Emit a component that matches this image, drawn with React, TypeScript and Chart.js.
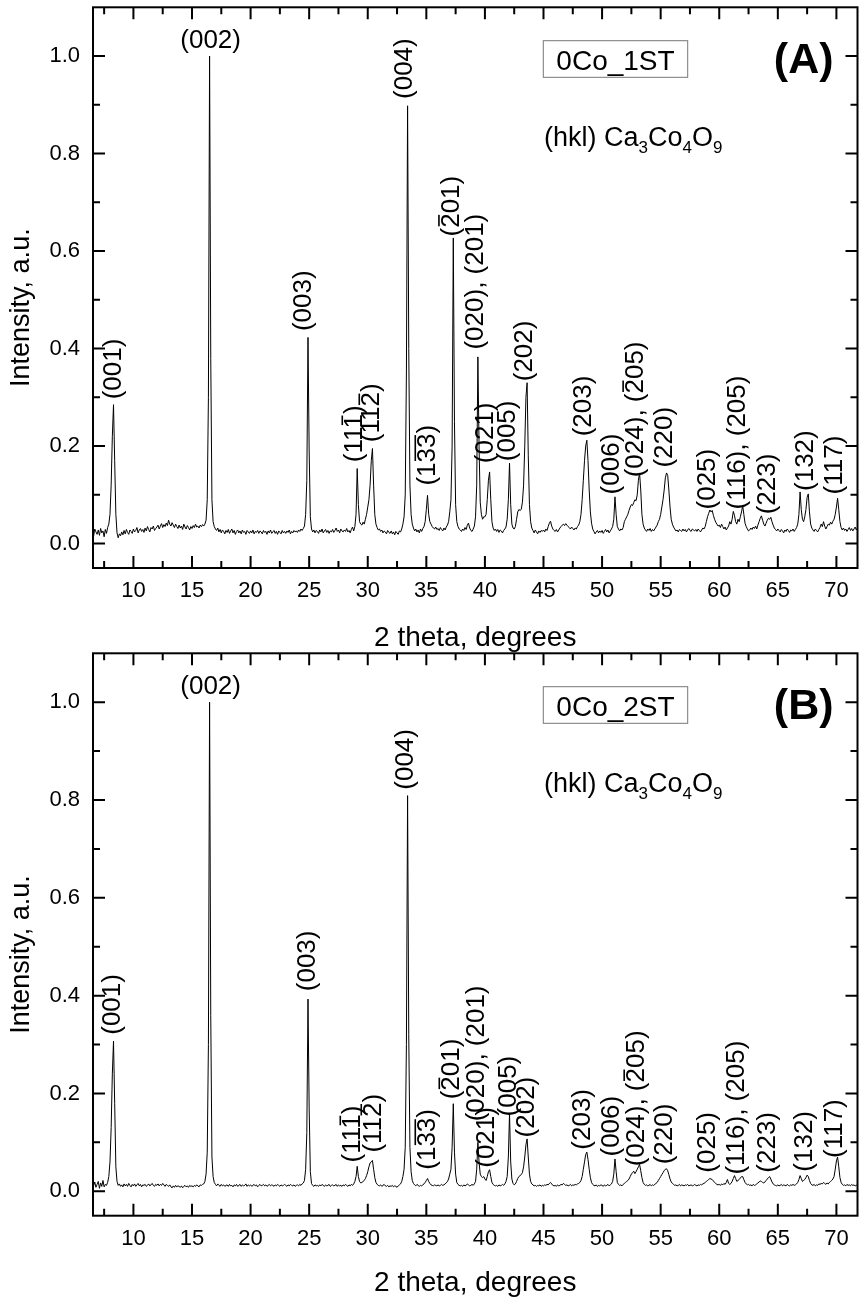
import React, { useEffect, useRef } from "react";
import { Chart, registerables } from "chart.js";

Chart.register(...registerables);

const FONT = '"Liberation Sans", Arial, Helvetica, sans-serif';

// 2-theta sampling of the diffractograms (degrees)
const TWO_THETA_START = 6.0;
const TWO_THETA_STEP = 0.1;

// axis ranges and ticks
const X_MIN = 6.55;
const X_MAX = 71.8;
const Y_MIN = -0.05;
const Y_MAX = 1.1;
const X_MAJOR_TICKS = [10, 15, 20, 25, 30, 35, 40, 45, 50, 55, 60, 65, 70];
const X_MINOR_TICKS = [7.5, 12.5, 17.5, 22.5, 27.5, 32.5, 37.5, 42.5, 47.5, 52.5, 57.5, 62.5, 67.5];
const Y_MAJOR_TICKS = [0, 0.2, 0.4, 0.6, 0.8, 1.0];
const Y_MINOR_TICKS = [0.1, 0.3, 0.5, 0.7, 0.9];

const X_TITLE = "2 theta, degrees";
const Y_TITLE = "Intensity, a.u.";
const PHASE_PREFIX = "(hkl) Ca";

// Sample 0Co_1ST, one row per degree (x.0 ... x.9), rows 6 .. 71
const intensity1ST = [
  0.022, 0.03, 0.018, 0.028, 0.02, 0.026, 0.015, 0.03, 0.024, 0.019, // 6
  0.028, 0.017, 0.031, 0.022, 0.026, 0.014, 0.029, 0.021, 0.033, 0.04, // 7
  0.06, 0.12, 0.22, 0.285, 0.17, 0.06, 0.022, 0.012, 0.02, 0.016, // 8
  0.024, 0.018, 0.027, 0.02, 0.029, 0.023, 0.019, 0.028, 0.025, 0.021, // 9
  0.03, 0.024, 0.027, 0.033, 0.022, 0.028, 0.031, 0.025, 0.029, 0.023, // 10
  0.032, 0.026, 0.035, 0.029, 0.024, 0.033, 0.03, 0.036, 0.027, 0.031, // 11
  0.034, 0.038, 0.03, 0.036, 0.041, 0.033, 0.039, 0.035, 0.042, 0.037, // 12
  0.048, 0.04, 0.036, 0.043, 0.038, 0.033, 0.04, 0.035, 0.031, 0.038, // 13
  0.032, 0.036, 0.029, 0.04, 0.034, 0.03, 0.037, 0.033, 0.028, 0.035, // 14
  0.031, 0.037, 0.033, 0.04, 0.034, 0.036, 0.032, 0.038, 0.035, 0.039, // 15
  0.036, 0.04, 0.048, 0.09, 0.3, 1.0, 0.38, 0.09, 0.045, 0.035, // 16
  0.03, 0.027, 0.032, 0.024, 0.029, 0.022, 0.028, 0.025, 0.02, 0.027, // 17
  0.023, 0.029, 0.021, 0.026, 0.03, 0.022, 0.027, 0.019, 0.025, 0.028, // 18
  0.022, 0.026, 0.02, 0.028, 0.023, 0.025, 0.019, 0.027, 0.024, 0.021, // 19
  0.026, 0.022, 0.028, 0.02, 0.025, 0.023, 0.027, 0.021, 0.026, 0.024, // 20
  0.02, 0.027, 0.023, 0.025, 0.019, 0.026, 0.022, 0.028, 0.021, 0.024, // 21
  0.027, 0.021, 0.025, 0.019, 0.026, 0.023, 0.02, 0.027, 0.022, 0.025, // 22
  0.021, 0.026, 0.023, 0.028, 0.02, 0.025, 0.022, 0.027, 0.024, 0.026, // 23
  0.023, 0.028, 0.025, 0.03, 0.027, 0.031, 0.036, 0.06, 0.13, 0.423, // 24
  0.19, 0.055, 0.03, 0.024, 0.028, 0.022, 0.027, 0.025, 0.021, 0.028, // 25
  0.024, 0.03, 0.022, 0.026, 0.029, 0.023, 0.027, 0.021, 0.026, 0.024, // 26
  0.029, 0.023, 0.027, 0.032, 0.025, 0.028, 0.022, 0.03, 0.026, 0.024, // 27
  0.028, 0.025, 0.031, 0.024, 0.027, 0.022, 0.029, 0.034, 0.026, 0.035, // 28
  0.06, 0.154, 0.08, 0.045, 0.04, 0.038, 0.044, 0.04, 0.05, 0.06, // 29
  0.075, 0.09, 0.12, 0.17, 0.195, 0.12, 0.06, 0.04, 0.033, 0.028, // 30
  0.03, 0.025, 0.028, 0.022, 0.026, 0.024, 0.02, 0.027, 0.023, 0.021, // 31
  0.026, 0.02, 0.024, 0.018, 0.025, 0.022, 0.019, 0.026, 0.024, 0.03, // 32
  0.04, 0.055, 0.1, 0.35, 0.898, 0.4, 0.12, 0.06, 0.04, 0.032, // 33
  0.026, 0.03, 0.024, 0.028, 0.022, 0.03, 0.025, 0.031, 0.035, 0.045, // 34
  0.07, 0.099, 0.06, 0.045, 0.04, 0.035, 0.032, 0.03, 0.034, 0.029, // 35
  0.031, 0.027, 0.033, 0.029, 0.026, 0.032, 0.028, 0.034, 0.038, 0.045, // 36
  0.065, 0.09, 0.2, 0.627, 0.25, 0.08, 0.045, 0.035, 0.03, 0.028, // 37
  0.025, 0.03, 0.027, 0.033, 0.029, 0.038, 0.042, 0.032, 0.027, 0.025, // 38
  0.03, 0.036, 0.055, 0.12, 0.383, 0.2, 0.085, 0.06, 0.05, 0.055, // 39
  0.055, 0.06, 0.09, 0.13, 0.147, 0.09, 0.045, 0.032, 0.027, 0.03, // 40
  0.025, 0.029, 0.023, 0.028, 0.026, 0.022, 0.027, 0.03, 0.034, 0.05, // 41
  0.09, 0.165, 0.08, 0.04, 0.032, 0.03, 0.035, 0.05, 0.065, 0.07, // 42
  0.068, 0.07, 0.085, 0.12, 0.2, 0.3, 0.33, 0.18, 0.08, 0.045, // 43
  0.032, 0.027, 0.022, 0.028, 0.024, 0.02, 0.026, 0.023, 0.027, 0.025, // 44
  0.028, 0.024, 0.03, 0.027, 0.035, 0.042, 0.046, 0.036, 0.03, 0.027, // 45
  0.025, 0.029, 0.024, 0.028, 0.032, 0.035, 0.038, 0.04, 0.037, 0.041, // 46
  0.038, 0.035, 0.033, 0.03, 0.034, 0.031, 0.028, 0.032, 0.03, 0.035, // 47
  0.038, 0.045, 0.06, 0.09, 0.13, 0.17, 0.2, 0.212, 0.17, 0.11, // 48
  0.065, 0.042, 0.03, 0.025, 0.02, 0.024, 0.027, 0.022, 0.026, 0.023, // 49
  0.027, 0.021, 0.025, 0.029, 0.024, 0.028, 0.022, 0.026, 0.03, 0.035, // 50
  0.05, 0.096, 0.06, 0.035, 0.03, 0.026, 0.03, 0.028, 0.033, 0.045, // 51
  0.05, 0.055, 0.06, 0.068, 0.075, 0.08, 0.078, 0.084, 0.09, 0.088, // 52
  0.1, 0.13, 0.145, 0.11, 0.06, 0.04, 0.032, 0.028, 0.025, 0.03, // 53
  0.027, 0.031, 0.025, 0.029, 0.026, 0.03, 0.034, 0.038, 0.045, 0.05, // 54
  0.06, 0.075, 0.09, 0.11, 0.135, 0.145, 0.14, 0.11, 0.075, 0.05, // 55
  0.04, 0.034, 0.03, 0.026, 0.028, 0.024, 0.029, 0.027, 0.025, 0.03, // 56
  0.026, 0.029, 0.024, 0.028, 0.031, 0.027, 0.025, 0.03, 0.028, 0.026, // 57
  0.029, 0.025, 0.03, 0.027, 0.024, 0.028, 0.032, 0.03, 0.035, 0.045, // 58
  0.055, 0.062, 0.069, 0.065, 0.068, 0.058, 0.05, 0.044, 0.04, 0.036, // 59
  0.038, 0.033, 0.04, 0.035, 0.03, 0.034, 0.028, 0.032, 0.036, 0.045, // 60
  0.04, 0.05, 0.066, 0.058, 0.045, 0.04, 0.05, 0.045, 0.055, 0.065, // 61
  0.078, 0.06, 0.042, 0.035, 0.03, 0.026, 0.028, 0.032, 0.029, 0.034, // 62
  0.031, 0.036, 0.03, 0.038, 0.045, 0.052, 0.057, 0.048, 0.04, 0.036, // 63
  0.042, 0.048, 0.052, 0.05, 0.054, 0.045, 0.038, 0.032, 0.029, 0.026, // 64
  0.03, 0.027, 0.024, 0.029, 0.026, 0.022, 0.028, 0.025, 0.03, 0.027, // 65
  0.023, 0.028, 0.026, 0.03, 0.025, 0.029, 0.033, 0.04, 0.06, 0.106, // 66
  0.07, 0.05, 0.045, 0.055, 0.07, 0.095, 0.102, 0.065, 0.04, 0.032, // 67
  0.028, 0.025, 0.03, 0.027, 0.024, 0.029, 0.033, 0.04, 0.035, 0.045, // 68
  0.036, 0.03, 0.035, 0.04, 0.038, 0.044, 0.04, 0.046, 0.05, 0.06, // 69
  0.075, 0.093, 0.07, 0.045, 0.033, 0.028, 0.032, 0.027, 0.03, 0.025, // 70
  0.029, 0.033, 0.027, 0.031, 0.026, 0.03, 0.034, 0.028, 0.032, 0.03, // 71
];

// Sample 0Co_2ST, same sampling
const intensity2ST = [
  0.015, 0.02, 0.012, 0.018, 0.009, 0.016, 0.011, 0.019, 0.008, 0.014, // 6
  0.02, 0.006, 0.017, 0.01, 0.022, 0.009, 0.014, 0.012, 0.018, 0.03, // 7
  0.06, 0.13, 0.24, 0.307, 0.18, 0.05, 0.02, 0.012, 0.015, 0.01, // 8
  0.013, 0.009, 0.015, 0.011, 0.014, 0.01, 0.016, 0.012, 0.009, 0.014, // 9
  0.011, 0.015, 0.01, 0.013, 0.016, 0.011, 0.014, 0.009, 0.013, 0.012, // 10
  0.014, 0.01, 0.012, 0.015, 0.011, 0.013, 0.016, 0.012, 0.01, 0.014, // 11
  0.012, 0.015, 0.011, 0.014, 0.012, 0.016, 0.013, 0.01, 0.014, 0.012, // 12
  0.01, 0.013, 0.009, 0.007, 0.011, 0.008, 0.012, 0.009, 0.011, 0.01, // 13
  0.008, 0.011, 0.007, 0.01, 0.012, 0.009, 0.011, 0.008, 0.012, 0.01, // 14
  0.011, 0.009, 0.012, 0.01, 0.013, 0.011, 0.009, 0.013, 0.012, 0.014, // 15
  0.015, 0.02, 0.035, 0.08, 0.3, 1.0, 0.36, 0.07, 0.03, 0.018, // 16
  0.014, 0.011, 0.015, 0.012, 0.01, 0.014, 0.011, 0.013, 0.01, 0.012, // 17
  0.013, 0.01, 0.014, 0.011, 0.012, 0.009, 0.013, 0.011, 0.014, 0.01, // 18
  0.012, 0.014, 0.01, 0.013, 0.011, 0.012, 0.015, 0.01, 0.013, 0.011, // 19
  0.013, 0.01, 0.012, 0.014, 0.011, 0.013, 0.009, 0.012, 0.014, 0.011, // 20
  0.012, 0.014, 0.011, 0.013, 0.01, 0.012, 0.014, 0.011, 0.013, 0.012, // 21
  0.01, 0.013, 0.011, 0.014, 0.012, 0.01, 0.013, 0.011, 0.012, 0.014, // 22
  0.012, 0.01, 0.013, 0.011, 0.014, 0.012, 0.011, 0.013, 0.01, 0.012, // 23
  0.013, 0.011, 0.014, 0.012, 0.015, 0.017, 0.022, 0.045, 0.12, 0.393, // 24
  0.17, 0.04, 0.016, 0.012, 0.01, 0.013, 0.011, 0.012, 0.01, 0.013, // 25
  0.011, 0.014, 0.012, 0.01, 0.013, 0.011, 0.012, 0.014, 0.01, 0.012, // 26
  0.013, 0.011, 0.012, 0.014, 0.01, 0.013, 0.011, 0.012, 0.01, 0.013, // 27
  0.011, 0.014, 0.012, 0.01, 0.013, 0.011, 0.014, 0.012, 0.015, 0.02, // 28
  0.03, 0.051, 0.03, 0.02, 0.017, 0.018, 0.02, 0.022, 0.026, 0.032, // 29
  0.04, 0.05, 0.058, 0.06, 0.063, 0.045, 0.028, 0.018, 0.014, 0.012, // 30
  0.011, 0.013, 0.01, 0.012, 0.014, 0.011, 0.01, 0.012, 0.009, 0.011, // 31
  0.01, 0.012, 0.009, 0.011, 0.01, 0.008, 0.011, 0.013, 0.015, 0.02, // 32
  0.03, 0.045, 0.09, 0.3, 0.809, 0.32, 0.09, 0.04, 0.022, 0.016, // 33
  0.013, 0.011, 0.014, 0.012, 0.01, 0.012, 0.011, 0.013, 0.015, 0.018, // 34
  0.022, 0.026, 0.02, 0.016, 0.013, 0.012, 0.011, 0.013, 0.012, 0.011, // 35
  0.013, 0.011, 0.012, 0.014, 0.012, 0.013, 0.015, 0.017, 0.02, 0.025, // 36
  0.035, 0.045, 0.09, 0.179, 0.08, 0.035, 0.018, 0.014, 0.012, 0.011, // 37
  0.012, 0.01, 0.013, 0.011, 0.012, 0.015, 0.013, 0.011, 0.012, 0.014, // 38
  0.012, 0.015, 0.02, 0.045, 0.1, 0.06, 0.035, 0.03, 0.028, 0.03, // 39
  0.025, 0.022, 0.03, 0.04, 0.044, 0.03, 0.018, 0.014, 0.012, 0.011, // 40
  0.012, 0.01, 0.013, 0.011, 0.012, 0.014, 0.012, 0.015, 0.02, 0.03, // 41
  0.07, 0.159, 0.06, 0.025, 0.016, 0.013, 0.015, 0.02, 0.026, 0.03, // 42
  0.032, 0.034, 0.038, 0.05, 0.07, 0.095, 0.107, 0.07, 0.035, 0.02, // 43
  0.015, 0.013, 0.011, 0.012, 0.01, 0.012, 0.011, 0.013, 0.01, 0.012, // 44
  0.011, 0.013, 0.012, 0.014, 0.013, 0.016, 0.018, 0.015, 0.012, 0.011, // 45
  0.012, 0.01, 0.013, 0.011, 0.012, 0.014, 0.013, 0.016, 0.014, 0.012, // 46
  0.013, 0.011, 0.012, 0.014, 0.011, 0.013, 0.012, 0.014, 0.013, 0.015, // 47
  0.016, 0.018, 0.022, 0.03, 0.045, 0.06, 0.075, 0.08, 0.065, 0.045, // 48
  0.028, 0.018, 0.014, 0.012, 0.011, 0.013, 0.01, 0.012, 0.011, 0.013, // 49
  0.012, 0.01, 0.013, 0.011, 0.012, 0.014, 0.011, 0.013, 0.015, 0.02, // 50
  0.035, 0.066, 0.04, 0.018, 0.014, 0.012, 0.013, 0.011, 0.014, 0.016, // 51
  0.018, 0.02, 0.022, 0.025, 0.03, 0.035, 0.038, 0.041, 0.036, 0.04, // 52
  0.045, 0.05, 0.055, 0.042, 0.028, 0.018, 0.014, 0.012, 0.013, 0.011, // 53
  0.012, 0.014, 0.011, 0.013, 0.012, 0.014, 0.016, 0.018, 0.022, 0.026, // 54
  0.03, 0.034, 0.038, 0.042, 0.045, 0.046, 0.042, 0.034, 0.025, 0.019, // 55
  0.016, 0.014, 0.012, 0.013, 0.011, 0.012, 0.014, 0.011, 0.013, 0.012, // 56
  0.011, 0.013, 0.012, 0.014, 0.011, 0.012, 0.013, 0.011, 0.012, 0.014, // 57
  0.012, 0.011, 0.013, 0.012, 0.014, 0.013, 0.015, 0.016, 0.018, 0.02, // 58
  0.022, 0.024, 0.026, 0.025, 0.024, 0.021, 0.018, 0.016, 0.014, 0.013, // 59
  0.014, 0.012, 0.015, 0.013, 0.016, 0.014, 0.018, 0.024, 0.016, 0.014, // 60
  0.016, 0.02, 0.026, 0.032, 0.026, 0.02, 0.022, 0.024, 0.027, 0.03, // 61
  0.03, 0.024, 0.018, 0.015, 0.013, 0.014, 0.012, 0.013, 0.011, 0.014, // 62
  0.012, 0.013, 0.015, 0.017, 0.019, 0.021, 0.02, 0.018, 0.017, 0.019, // 63
  0.022, 0.025, 0.028, 0.03, 0.025, 0.019, 0.015, 0.013, 0.012, 0.011, // 64
  0.013, 0.011, 0.012, 0.014, 0.011, 0.013, 0.012, 0.011, 0.014, 0.012, // 65
  0.011, 0.013, 0.012, 0.014, 0.012, 0.013, 0.015, 0.018, 0.024, 0.032, // 66
  0.026, 0.02, 0.022, 0.024, 0.028, 0.033, 0.03, 0.022, 0.016, 0.013, // 67
  0.012, 0.014, 0.011, 0.013, 0.012, 0.015, 0.014, 0.016, 0.015, 0.018, // 68
  0.016, 0.014, 0.017, 0.015, 0.018, 0.02, 0.022, 0.025, 0.03, 0.045, // 69
  0.062, 0.07, 0.05, 0.028, 0.018, 0.014, 0.012, 0.013, 0.011, 0.014, // 70
  0.012, 0.013, 0.011, 0.014, 0.012, 0.013, 0.011, 0.012, 0.014, 0.012, // 71
];

type PeakLabel = { x: number; y: number; text: string; flat?: boolean };

// Miller-index labels: x = 2theta of the label, y = intensity where the label starts
const peakLabels1ST: PeakLabel[] = [
  { x: 8.31, y: 0.296, text: "(001)" },
  { x: 16.59, y: 1.031, text: "(002)", flat: true },
  { x: 24.56, y: 0.436, text: "(003)" },
  { x: 33.18, y: 0.912, text: "(004)" },
  { x: 28.91, y: 0.167, text: "(111\u0305)" },
  { x: 30.36, y: 0.208, text: "(112\u0305)" },
  { x: 35.14, y: 0.119, text: "(13\u03053\u0305)" },
  { x: 37.16, y: 0.63, text: "(2\u030401)" },
  { x: 39.23, y: 0.398, text: "(020), (201)" },
  { x: 40.09, y: 0.165, text: "(021)" },
  { x: 41.97, y: 0.169, text: "(005)" },
  { x: 43.42, y: 0.333, text: "(202)" },
  { x: 48.45, y: 0.22, text: "(203)" },
  { x: 50.81, y: 0.101, text: "(006)" },
  { x: 52.88, y: 0.136, text: "(024), (2\u030405)" },
  { x: 55.36, y: 0.156, text: "(220)" },
  { x: 59.03, y: 0.07, text: "(025)" },
  { x: 61.58, y: 0.07, text: "(116), (205)" },
  { x: 64.14, y: 0.06, text: "(223)" },
  { x: 67.38, y: 0.108, text: "(132)" },
  { x: 69.86, y: 0.101, text: "(117)" },
];

const peakLabels2ST: PeakLabel[] = [
  { x: 8.23, y: 0.32, text: "(001)" },
  { x: 16.59, y: 1.031, text: "(002)", flat: true },
  { x: 24.9, y: 0.409, text: "(003)" },
  { x: 33.26, y: 0.821, text: "(004)" },
  { x: 28.74, y: 0.059, text: "(111\u0305)" },
  { x: 30.53, y: 0.079, text: "(112\u0305)" },
  { x: 35.14, y: 0.044, text: "(13\u03053\u0305)" },
  { x: 37.19, y: 0.188, text: "(2\u030401)" },
  { x: 39.32, y: 0.143, text: "(020), (201)" },
  { x: 40.17, y: 0.048, text: "(021)" },
  { x: 42.05, y: 0.153, text: "(005)" },
  { x: 43.58, y: 0.11, text: "(202)" },
  { x: 48.36, y: 0.085, text: "(203)" },
  { x: 50.84, y: 0.071, text: "(006)" },
  { x: 52.97, y: 0.051, text: "(024), (2\u030405)" },
  { x: 55.36, y: 0.055, text: "(220)" },
  { x: 59.03, y: 0.038, text: "(025)" },
  { x: 61.54, y: 0.034, text: "(116), (205)" },
  { x: 64.14, y: 0.038, text: "(223)" },
  { x: 67.3, y: 0.04, text: "(132)" },
  { x: 69.86, y: 0.068, text: "(117)" },
];

function splitBars(s: string) {
  const chars: string[] = [];
  const bars: number[] = [];
  for (const ch of Array.from(s)) {
    if (ch === "\u0305" || ch === "\u0304") bars.push(chars.length - 1);
    else chars.push(ch);
  }
  const runs: [number, number][] = [];
  for (const i of bars) {
    const last = runs[runs.length - 1];
    if (last && last[1] === i - 1) last[1] = i;
    else runs.push([i, i]);
  }
  return { text: chars.join(""), runs };
}

type DecorCfg = {
  labels: PeakLabel[];
  sample: string;
  tag: string;
  xTitleOffset: number;
};

function makeDecorPlugin(cfg: DecorCfg) {
  return {
    id: "xrdDecor",
    afterDraw(chart: any) {
      const { ctx, chartArea: ca } = chart;
      const xs = chart.scales.x;
      const ys = chart.scales.y;
      ctx.save();

      // frame
      ctx.strokeStyle = "#000";
      ctx.lineWidth = 2;
      ctx.strokeRect(ca.left, ca.top, ca.right - ca.left, ca.bottom - ca.top);

      // inward ticks on all four sides
      ctx.beginPath();
      const xt = (v: number, len: number) => {
        const p = xs.getPixelForValue(v);
        ctx.moveTo(p, ca.bottom);
        ctx.lineTo(p, ca.bottom - len);
        ctx.moveTo(p, ca.top);
        ctx.lineTo(p, ca.top + len);
      };
      const yt = (v: number, len: number) => {
        const p = ys.getPixelForValue(v);
        ctx.moveTo(ca.left, p);
        ctx.lineTo(ca.left + len, p);
        ctx.moveTo(ca.right, p);
        ctx.lineTo(ca.right - len, p);
      };
      X_MAJOR_TICKS.forEach((v) => xt(v, 12));
      X_MINOR_TICKS.forEach((v) => xt(v, 7));
      Y_MAJOR_TICKS.forEach((v) => yt(v, 12));
      Y_MINOR_TICKS.forEach((v) => yt(v, 7));
      ctx.stroke();

      // peak labels
      ctx.fillStyle = "#000";
      for (const lb of cfg.labels) {
        const { text, runs } = splitBars(lb.text);
        const px = xs.getPixelForValue(lb.x);
        const py = ys.getPixelForValue(lb.y);
        const flat = lb.flat === true;
        ctx.save();
        ctx.translate(px, py);
        if (!flat) ctx.rotate(-Math.PI / 2);
        ctx.font = `26px ${FONT}`;
        ctx.textBaseline = "middle";
        ctx.textAlign = flat ? "center" : "left";
        ctx.fillText(text, 0, 0);
        const x0 = flat ? -ctx.measureText(text).width / 2 : 0;
        for (const [a, b] of runs) {
          const s = ctx.measureText(text.slice(0, a)).width;
          const e = ctx.measureText(text.slice(0, b + 1)).width;
          ctx.fillRect(x0 + s + 1.5, -13.5, e - s - 3, 1.6);
        }
        ctx.restore();
      }

      // sample name box
      const bx = ca.left + 450.3;
      const by = ca.top + 33.4;
      ctx.strokeStyle = "#777";
      ctx.lineWidth = 1;
      ctx.strokeRect(bx, by, 144.4, 36.6);
      ctx.font = `28px ${FONT}`;
      ctx.textAlign = "center";
      ctx.textBaseline = "alphabetic";
      ctx.fillText(cfg.sample, bx + 72.2, ca.top + 62.5);

      // phase legend with subscripts
      let hx = ca.left + 451;
      const hy = ca.top + 139;
      const parts: [string, boolean][] = [
        [PHASE_PREFIX, false], ["3", true], ["Co", false], ["4", true], ["O", false], ["9", true],
      ];
      ctx.textAlign = "left";
      for (const [t, sub] of parts) {
        ctx.font = sub ? `17px ${FONT}` : `27px ${FONT}`;
        ctx.fillText(t, hx, sub ? hy + 7 : hy);
        hx += ctx.measureText(t).width;
      }

      // panel tag
      ctx.font = `bold 43px ${FONT}`;
      ctx.textAlign = "right";
      ctx.fillText(cfg.tag, ca.right - 24, ca.top + 65.5);

      // axis titles
      ctx.font = `28px ${FONT}`;
      ctx.textAlign = "center";
      ctx.fillText(X_TITLE, (ca.left + ca.right) / 2, ca.bottom + cfg.xTitleOffset);
      ctx.save();
      ctx.translate(28.5, (ca.top + ca.bottom) / 2 + 20);
      ctx.rotate(-Math.PI / 2);
      ctx.font = `27px ${FONT}`;
      ctx.fillText(Y_TITLE, 0, 0);
      ctx.restore();

      ctx.restore();
    },
  };
}

type PanelProps = {
  top: number;
  height: number;
  plotTop: number;
  plotBottom: number;
  values: number[];
  labels: PeakLabel[];
  sample: string;
  tag: string;
  xTitleOffset: number;
};

function Panel(p: PanelProps) {
  const ref = useRef<HTMLCanvasElement>(null);
  useEffect(() => {
    if (!ref.current) return;
    const points = p.values.map((v, i) => ({
      x: +(TWO_THETA_START + i * TWO_THETA_STEP).toFixed(2),
      y: v,
    }));
    const chart = new Chart(ref.current, {
      type: "line",
      data: {
        datasets: [
          {
            data: points,
            borderColor: "#000",
            borderWidth: 1,
            pointRadius: 0,
            tension: 0,
            fill: false,
          },
        ],
      },
      options: {
        animation: false,
        responsive: false,
        devicePixelRatio: 1,
        layout: { padding: { top: p.plotTop, left: 0, right: 1.5, bottom: 0 } },
        plugins: {
          legend: { display: false },
          tooltip: { enabled: false },
        },
        scales: {
          x: {
            type: "linear",
            min: X_MIN,
            max: X_MAX,
            grid: { display: false, drawTicks: false },
            border: { display: false },
            afterBuildTicks: (s: any) => {
              s.ticks = X_MAJOR_TICKS.map((v) => ({ value: v }));
            },
            afterFit: (s: any) => {
              s.height = p.height - p.plotBottom;
              s.paddingLeft = 0;
              s.paddingRight = 0;
            },
            ticks: {
              autoSkip: false,
              maxRotation: 0,
              padding: 10,
              color: "#000",
              font: { family: FONT, size: 22 },
              callback: (v: any) => String(v),
            },
          },
          y: {
            type: "linear",
            min: Y_MIN,
            max: Y_MAX,
            grid: { display: false, drawTicks: false },
            border: { display: false },
            afterBuildTicks: (s: any) => {
              s.ticks = Y_MAJOR_TICKS.map((v) => ({ value: v }));
            },
            afterFit: (s: any) => {
              s.width = 93;
              s.paddingTop = 0;
              s.paddingBottom = 0;
            },
            ticks: {
              padding: 13,
              color: "#000",
              font: { family: FONT, size: 22 },
              callback: (v: any) => Number(v).toFixed(1),
            },
          },
        },
      },
      plugins: [
        makeDecorPlugin({
          labels: p.labels,
          sample: p.sample,
          tag: p.tag,
          xTitleOffset: p.xTitleOffset,
        }),
      ],
    });
    return () => chart.destroy();
  }, []);
  return (
    <canvas
      ref={ref}
      width={859}
      height={p.height}
      style={{ position: "absolute", left: 0, top: p.top, width: 859, height: p.height }}
    />
  );
}

export default function App() {
  return (
    <div style={{ position: "absolute", left: 0, top: 0, width: 859, height: 1301, background: "#fff", overflow: "hidden" }}>
      <Panel
        top={0}
        height={660}
        plotTop={7.3}
        plotBottom={568}
        values={intensity1ST}
        labels={peakLabels1ST}
        sample="0Co_1ST"
        tag="(A)"
        xTitleOffset={77.5}
      />
      <Panel
        top={640}
        height={661}
        plotTop={13.3}
        plotBottom={575.7}
        values={intensity2ST}
        labels={peakLabels2ST}
        sample="0Co_2ST"
        tag="(B)"
        xTitleOffset={75.3}
      />
    </div>
  );
}
